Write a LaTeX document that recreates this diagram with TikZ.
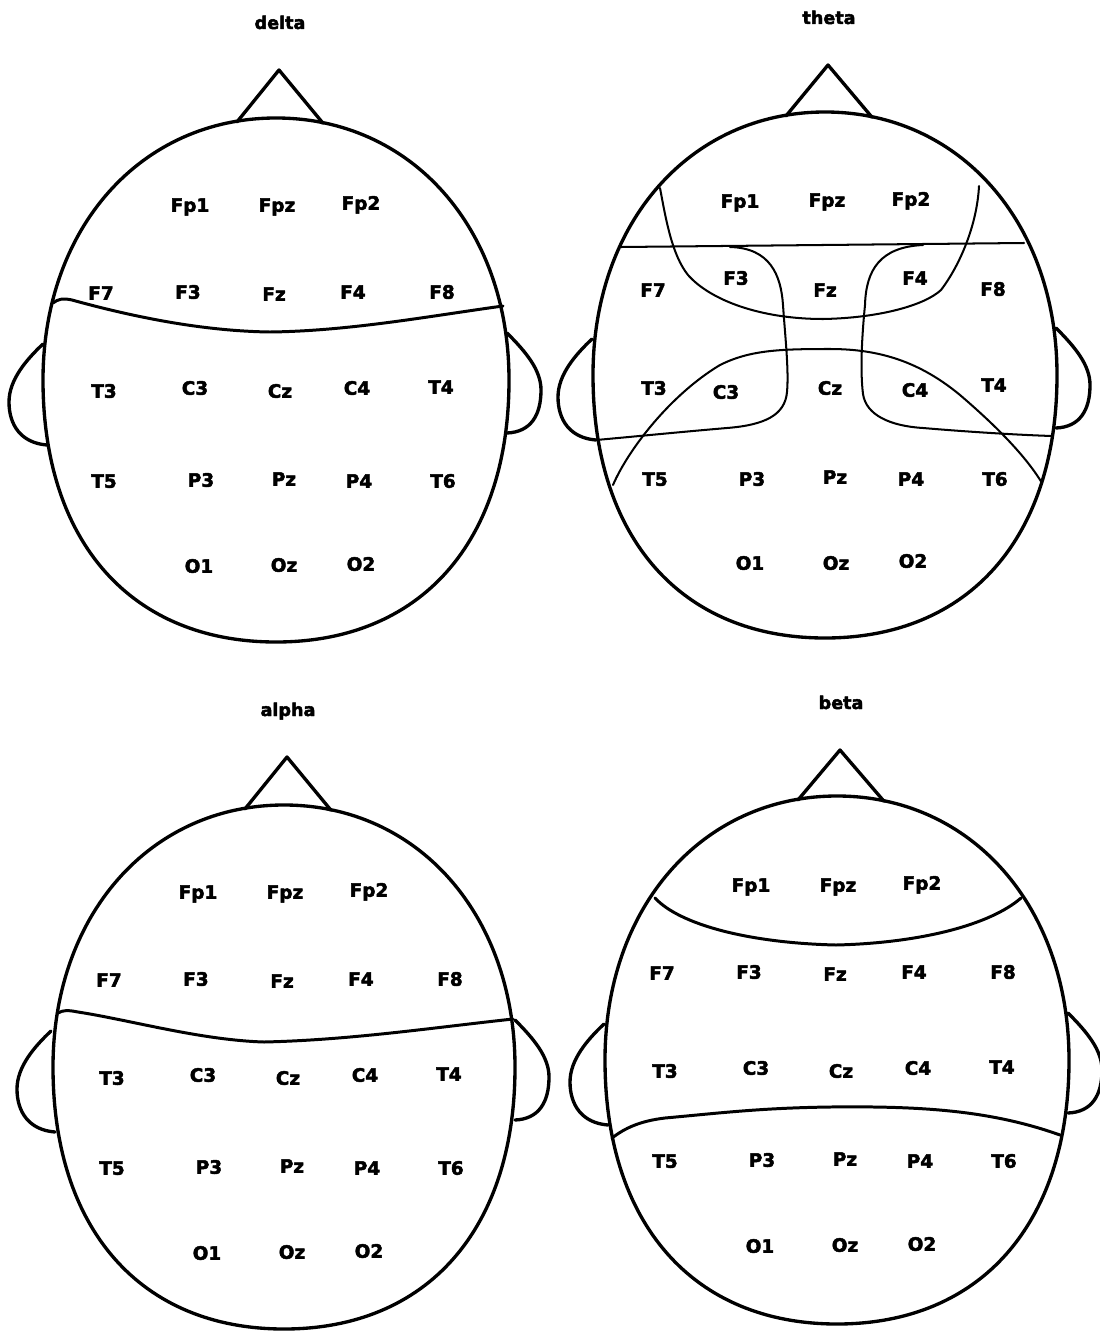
\documentclass[tikz,border=0pt]{standalone}
\usepackage{fontspec}
\setmainfont{DejaVu Sans}[BoldFeatures={FakeBold=2.5}]
\tikzset{
  head/.style={line width=1.9pt},
  zone/.style={line width=1.7pt},
  thinzone/.style={line width=1.15pt},
  elec/.style={font=\bfseries\fontsize{10.5}{12}\selectfont, inner sep=0pt, anchor=base, yshift=-1.35mm},
  band/.style={font=\bfseries\fontsize{10}{12}\selectfont, inner sep=0pt, anchor=base, yshift=-1.2mm}
}

\begin{document}
\begin{tikzpicture}[x=0.2mm, y=-0.2mm, line cap=round, line join=round]
    \useasboundingbox (0,0) rectangle (1099,1331);
    % heads: outline, nose, ears, band name
    \foreach \h/\cx/\cy/\rx/\ry/\t in {d/276/380/233/262/delta, t/825/375/232/263/theta,
                                      a/284/1067/231/262/alpha, b/837/1060/232/264/beta}
      { \begin{scope}[shift={(\cx,\cy)}]
          \draw[head] (0,-\ry) .. controls ({-0.58*\rx},-\ry) and (-\rx,{-0.58*\ry}) .. (-\rx,0)
                      .. controls (-\rx,{0.62*\ry}) and ({-0.62*\rx},\ry) .. (0,\ry)
                      .. controls ({0.62*\rx},\ry) and (\rx,{0.62*\ry}) .. (\rx,0)
                      .. controls (\rx,{-0.58*\ry}) and ({0.58*\rx},-\ry) .. cycle;
          \draw[head] (-39,{-0.985*\ry}) -- (3,-310) -- (47,{-0.98*\ry});
          \draw[head] (-233,-36) .. controls (-250,-20) and (-267,0) .. (-267,22)
                      .. controls (-267,45) and (-255,63) .. (-229,65);
          \draw[head] (231,-47) .. controls (250,-28) and (265,-10) .. (265,10)
                      .. controls (265,35) and (255,52) .. (231,53);
          \node[band] (\h-title) at (4,-357) {\t};
        \end{scope} }
    % electrodes
    \foreach \h/\cx/\cy in {d/276/380, a/284/1067, b/837/1060}
      \foreach \n/\x/\y in {Fp1/-86/-175, Fpz/1/-175, Fp2/85/-177,
                            F7/-175/-87, F3/-88/-88, Fz/-2/-86, F4/77/-88, F8/166/-88,
                            T3/-172/11, C3/-81/8, Cz/4/11, C4/81/8, T4/165/7,
                            T5/-172/101, P3/-75/100, Pz/8/99, P4/83/101, T6/167/101,
                            O1/-77/186, Oz/8/185, O2/85/184}
        \node[elec] (\h-\n) at ({\cx+\x},{\cy+\y}) {\n};
    \foreach \n/\x/\y in {Fp1/-85/-174, Fpz/2/-175, Fp2/86/-176,
                          F7/-172/-85, F3/-89/-97, Fz/0/-85, F4/90/-97, F8/168/-86,
                          T3/-171/13, C3/-99/17, Cz/5/13, C4/90/15, T4/169/10,
                          T5/-170/104, P3/-73/104, Pz/10/102, P4/86/104, T6/170/104,
                          O1/-75/188, Oz/11/188, O2/88/186}
      \node[elec] (t-\n) at ({825+\x},{375+\y}) {\n};

    % delta
    \draw[zone] (53,303) .. controls (58,299) and (63,298) .. (72,300)
        .. controls (130,316) and (200,331) .. (270,332)
        .. controls (350,331) and (430,316) .. (503,306);
    % theta
    \draw[thinzone] (621,247) -- (1024,243);
    \draw[thinzone] (730,247) .. controls (770,248) and (781,275) .. (783,305)
        .. controls (785,335) and (789,370) .. (787,392)
        .. controls (785,415) and (765,425) .. (727,428)
        .. controls (680,432) and (630,437) .. (596,440);
    \draw[thinzone] (923,245) .. controls (880,247) and (866,270) .. (865,305)
        .. controls (862,335) and (860,370) .. (863,394)
        .. controls (866,415) and (890,426) .. (923,428)
        .. controls (970,432) and (1020,435) .. (1052,436);
    \draw[thinzone] (660,188) .. controls (666,220) and (672,255) .. (688,275)
        .. controls (710,300) and (760,319) .. (823,319)
        .. controls (880,318) and (925,305) .. (941,290)
        .. controls (960,265) and (977,225) .. (979,186);
    \draw[thinzone] (613,485) .. controls (628,450) and (670,395) .. (720,365)
        .. controls (750,350) and (780,349) .. (830,349)
        .. controls (880,349) and (920,362) .. (960,395)
        .. controls (995,425) and (1025,455) .. (1042,483);
    % alpha
    \draw[zone] (58,1013) .. controls (63,1010) and (68,1010) .. (78,1012)
        .. controls (130,1020) and (200,1040) .. (264,1042)
        .. controls (350,1040) and (430,1028) .. (513,1019);
    % beta
    \draw[zone] (655,898) .. controls (680,925) and (750,943) .. (836,945)
        .. controls (920,943) and (990,925) .. (1021,898);
    \draw[zone] (612,1138) .. controls (625,1128) and (640,1121) .. (665,1118)
        .. controls (720,1113) and (760,1108) .. (830,1107)
        .. controls (920,1106) and (990,1110) .. (1060,1135);
\end{tikzpicture}
\end{document}
